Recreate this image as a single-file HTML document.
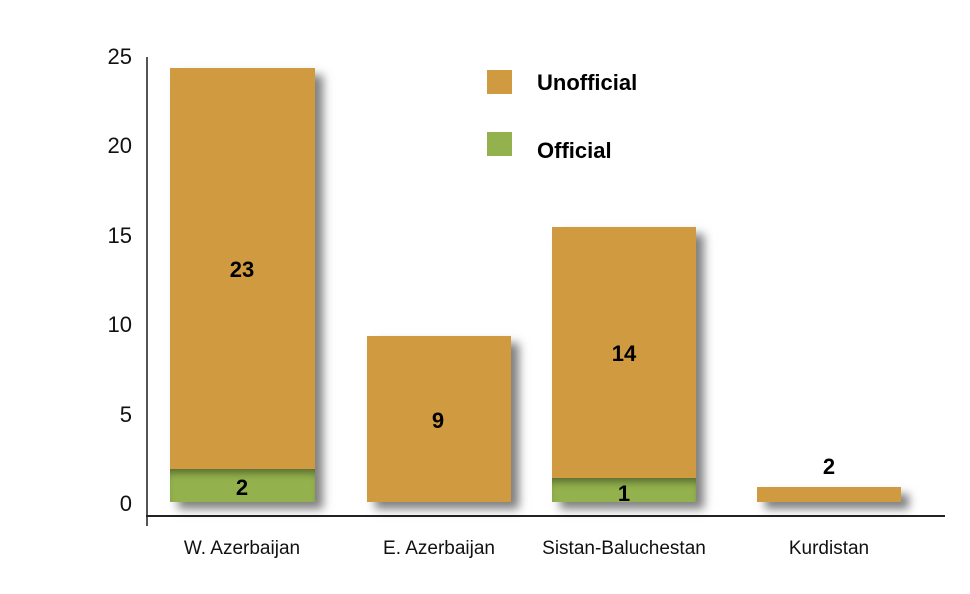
<!DOCTYPE html>
<html><head><style>
body{margin:0;width:970px;height:594px;background:#fff;position:relative;overflow:hidden;font-family:"Liberation Sans",sans-serif}
.a{position:absolute}
.bar{position:absolute;box-shadow:8px 7px 9px rgba(0,0,0,0.5)}
.o{background:#d09b40}.g{background:#93b24d}
.yl{position:absolute;width:40px;text-align:right;font-size:22px;color:#111;left:92px}
.xl{position:absolute;font-size:19px;color:#111;text-align:center;width:200px;top:538px}
.v{position:absolute;font-weight:bold;font-size:22px;text-align:center;width:60px;color:#000}
</style></head><body>
<div class="a" style="left:146px;top:57px;width:2px;height:469px;background:#555"></div>
<div class="a" style="left:146px;top:515px;width:799px;height:1.5px;background:#222"></div>
<div class="yl" style="top:44px">25</div>
<div class="yl" style="top:133px">20</div>
<div class="yl" style="top:223px">15</div>
<div class="yl" style="top:312px">10</div>
<div class="yl" style="top:402px">5</div>
<div class="yl" style="top:491px">0</div>

<div class="bar o" style="left:170px;top:68px;width:145px;height:434px"></div>
<div class="a g" style="left:170px;top:469px;width:145px;height:33px;box-shadow:inset 0 8px 8px -4px rgba(0,0,0,0.4)"></div>
<div class="bar o" style="left:367px;top:336px;width:144px;height:166px"></div>
<div class="bar o" style="left:552px;top:227px;width:144px;height:275px"></div>
<div class="a g" style="left:552px;top:478px;width:144px;height:24px;box-shadow:inset 0 8px 8px -4px rgba(0,0,0,0.4)"></div>
<div class="bar o" style="left:757px;top:487px;width:144px;height:15px"></div>

<div class="v" style="left:212px;top:257px">23</div>
<div class="v" style="left:212px;top:475px">2</div>
<div class="v" style="left:408px;top:408px">9</div>
<div class="v" style="left:594px;top:341px">14</div>
<div class="v" style="left:594px;top:481px">1</div>
<div class="v" style="left:799px;top:454px">2</div>

<div class="xl" style="left:142px">W. Azerbaijan</div>
<div class="xl" style="left:339px">E. Azerbaijan</div>
<div class="xl" style="left:524px">Sistan-Baluchestan</div>
<div class="xl" style="left:729px">Kurdistan</div>

<div class="a o" style="left:487px;top:70px;width:25px;height:24px"></div>
<div class="a" style="left:537px;top:70px;font-size:22px;font-weight:bold">Unofficial</div>
<div class="a g" style="left:487px;top:132px;width:25px;height:24px"></div>
<div class="a" style="left:537px;top:138px;font-size:22px;font-weight:bold">Official</div>
</body></html>
